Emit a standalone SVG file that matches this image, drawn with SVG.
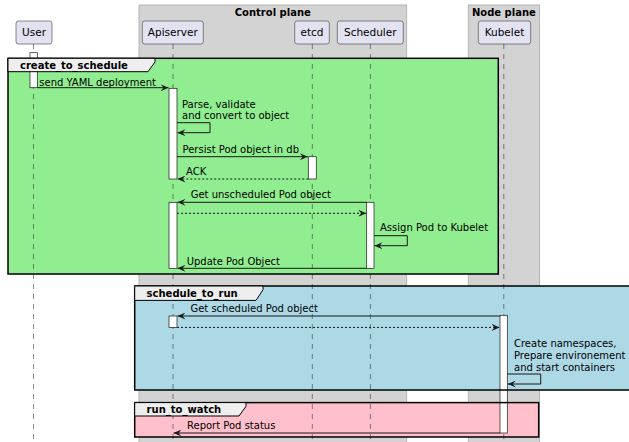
<svg xmlns="http://www.w3.org/2000/svg" width="629" height="442" viewBox="0 0 629 442">
<style>
text{font-family:"DejaVu Sans","Liberation Sans",sans-serif;fill:#000}
.msg{font-size:10px}
.part{font-size:10.5px}
.bold{font-size:10px;font-weight:bold}
.plane{fill:#D3D3D3;stroke:#A8A8A8;stroke-width:0.8}
.pbox{fill:#E2E2F0;stroke:#181818;stroke-width:0.5}
.life{stroke:#181818;stroke-width:0.5;stroke-dasharray:5,5;fill:none}
.act{fill:#FFFFFF;stroke:#181818;stroke-width:0.7}
.frame{stroke:#000;stroke-width:1.5}
.tab{fill:#EEEEEE;stroke:#000;stroke-width:1}
.line{stroke:#181818;stroke-width:1;fill:none;marker-end:url(#ah)}
.dash{stroke-dasharray:2,2}
</style>
<defs>
<marker id="ah" markerUnits="userSpaceOnUse" viewBox="0 0 9 7" markerWidth="9" markerHeight="7" refX="8" refY="3.5" orient="auto">
<path d="M0,0 L8,3.5 L0,7 L3,3.5 Z" fill="#181818"/>
</marker>
</defs>

<g id="control-plane">
<rect class="plane" x="139" y="5" width="267.7" height="445"/>
<text class="bold" x="272.8" y="15.5" text-anchor="middle">Control plane</text>
</g>
<g id="node-plane">
<rect class="plane" x="468.3" y="5" width="71.2" height="445"/>
<text class="bold" x="503.9" y="15.5" text-anchor="middle">Node plane</text>
</g>

<g id="frame-create_to_schedule">
<rect x="8" y="58.3" width="490.3" height="215.7" fill="#90EE90"/>
</g>
<g id="frame-schedule_to_run">
<rect x="134.7" y="286" width="510" height="104" fill="#ADD8E6"/>
</g>
<g id="frame-run_to_watch">
<rect x="134.7" y="402.6" width="404" height="34.4" fill="#FFC0CB"/>
</g>

<g id="lifelines">
<line class="life" x1="33.5" y1="44" x2="33.5" y2="442"/>
<line class="life" x1="173" y1="44" x2="173" y2="442"/>
<line class="life" x1="312.3" y1="44" x2="312.3" y2="442"/>
<line class="life" x1="370.4" y1="44" x2="370.4" y2="442"/>
<line class="life" x1="503.8" y1="44" x2="503.8" y2="442"/>
</g>

<g id="User">
<rect class="pbox" x="16" y="21" width="36" height="23" rx="2.5"/>
<text class="part" x="34" y="36.3" text-anchor="middle">User</text>
</g>
<g id="Apiserver">
<rect class="pbox" x="142.3" y="21" width="61" height="23" rx="2.5"/>
<text class="part" x="172.8" y="36.3" text-anchor="middle">Apiserver</text>
</g>
<g id="etcd">
<rect class="pbox" x="294.7" y="21" width="34.6" height="23" rx="2.5"/>
<text class="part" x="312" y="36.3" text-anchor="middle">etcd</text>
</g>
<g id="Scheduler">
<rect class="pbox" x="337.3" y="21" width="66" height="23" rx="2.5"/>
<text class="part" x="370.3" y="36.3" text-anchor="middle">Scheduler</text>
</g>
<g id="Kubelet">
<rect class="pbox" x="478.3" y="21" width="52.4" height="23" rx="2.5"/>
<text class="part" x="504.5" y="36.3" text-anchor="middle">Kubelet</text>
</g>

<g id="activations">
<rect class="act" x="30" y="52.7" width="7.3" height="35"/>
<rect class="act" x="169" y="88.3" width="8" height="90.7"/>
<rect class="act" x="308.3" y="156.7" width="8" height="22.3"/>
<rect class="act" x="169" y="202.3" width="8" height="66"/>
<rect class="act" x="366.7" y="202.3" width="7.3" height="66"/>
<rect class="act" x="169" y="316" width="8" height="11.4"/>
<rect class="act" x="500" y="315.3" width="7.3" height="117.7"/>
</g>

<g id="connectors">
<line class="line" x1="37.3" y1="87.7" x2="168.5" y2="87.7"/>
<text class="msg" x="39.3" y="85.8">send YAML deployment</text>

<path class="line" d="M177,122.7 L210,122.7 L210,132.7 L177.5,132.7"/>
<text class="msg" x="182" y="107.5">Parse, validate</text>
<text class="msg" x="182" y="119.2">and convert to object</text>

<line class="line" x1="177" y1="156.7" x2="307.8" y2="156.7"/>
<text class="msg" x="182.5" y="152.5">Persist Pod object in db</text>

<line class="line dash" x1="308.3" y1="179" x2="177.5" y2="179"/>
<text class="msg" x="186" y="174.5">ACK</text>

<line class="line" x1="366.7" y1="202.3" x2="177.5" y2="202.3"/>
<text class="msg" x="190.7" y="197.6">Get unscheduled Pod object</text>

<line class="line dash" x1="177" y1="213.3" x2="366.2" y2="213.3"/>

<path class="line" d="M374,235.7 L407.3,235.7 L407.3,245.7 L374.5,245.7"/>
<text class="msg" x="380" y="231">Assign Pod to Kubelet</text>

<line class="line" x1="366.7" y1="268.3" x2="177.5" y2="268.3"/>
<text class="msg" x="186.7" y="265">Update Pod Object</text>

<line class="line" x1="500" y1="316" x2="177.5" y2="316"/>
<text class="msg" x="190.4" y="311.6">Get scheduled Pod object</text>

<line class="line dash" x1="177" y1="327.4" x2="499.5" y2="327.4"/>

<path class="line" d="M507.3,374 L540.7,374 L540.7,384 L507.8,384"/>
<text class="msg" x="514" y="346.6">Create namespaces,</text>
<text class="msg" x="514" y="358.6">Prepare environement</text>
<text class="msg" x="514" y="370.6">and start containers</text>

<line class="line" x1="500" y1="433" x2="173.5" y2="433"/>
<text class="msg" x="187" y="428.6">Report Pod status</text>
</g>

<g id="frame-borders">
<rect class="frame" x="8" y="58.3" width="490.3" height="215.7" fill="none"/>
<path class="tab" d="M8,58.3 L155,58.3 L155,62 L148,71.7 L8,71.7 Z"/>
<text class="bold" x="20" y="68.8">create_to_schedule</text>

<rect class="frame" x="134.7" y="286" width="510" height="104" fill="none"/>
<path class="tab" d="M134.7,286 L263,286 L263,289.7 L256,300.4 L134.7,300.4 Z"/>
<text class="bold" x="146.6" y="297.3">schedule_to_run</text>

<rect class="frame" x="134.7" y="402.6" width="404" height="34.4" fill="none"/>
<path class="tab" d="M134.7,402.6 L246,402.6 L246,406.3 L239,416 L134.7,416 Z"/>
<text class="bold" x="146.6" y="413">run_to_watch</text>
</g>
</svg>
